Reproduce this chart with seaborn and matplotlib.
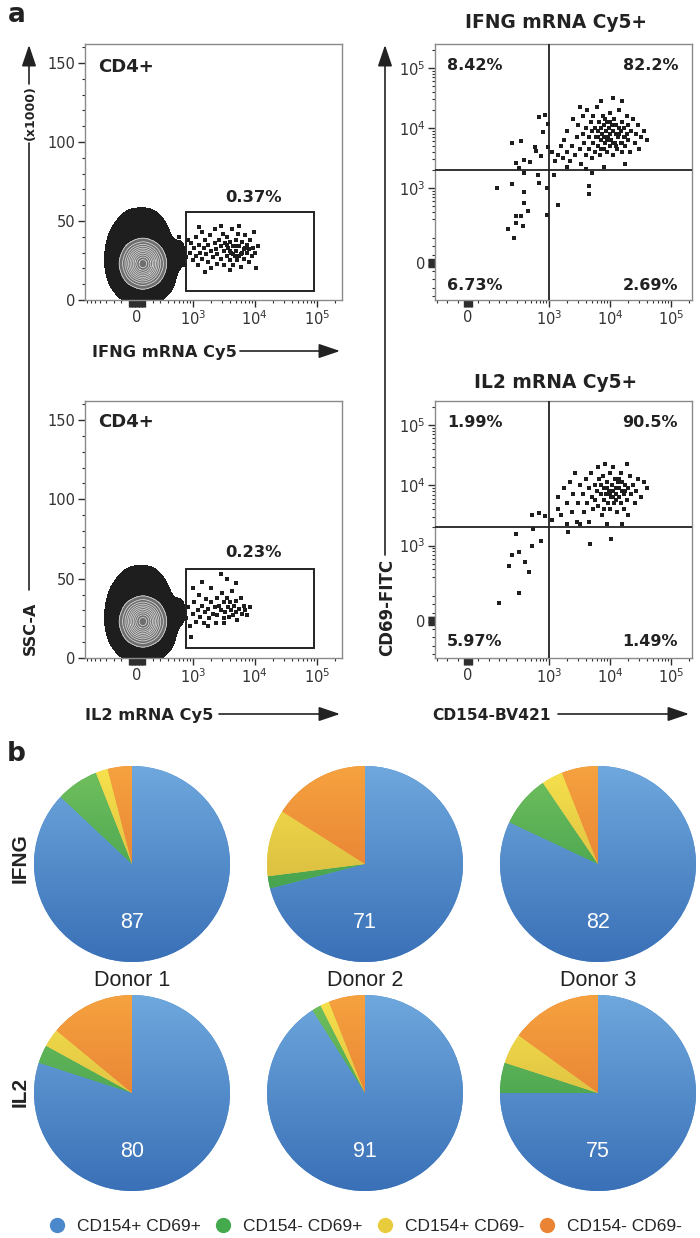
import numpy as np
import pandas as pd
import matplotlib
matplotlib.use("Agg")
import matplotlib.pyplot as plt
import seaborn as sns
from matplotlib import font_manager
from matplotlib.colors import LinearSegmentedColormap, ListedColormap
from matplotlib.lines import Line2D
from matplotlib.patches import Rectangle
from matplotlib.ticker import FixedLocator, FixedFormatter

# ======================= DATA =======================
# Panel a (left): CD4+ parent population, x = mRNA-Cy5, y = SSC-A (x1000)
cd4_cloud_x = [-100, 60, 220,
               -210, -70, 70, 210, 360,
               -260, -130, 0, 130, 260, 420,
               -260, -130, 0, 130, 270, 450, 620,
               -220, -90, 40, 170, 300,
               -150, -20, 110, 230,
               -60, 60, 160]
cd4_cloud_y = [7, 7, 7,
               13, 13, 13, 13, 13,
               21, 21, 21, 21, 21, 21,
               29, 29, 29, 29, 29, 29, 29,
               37, 37, 37, 37, 37,
               43, 43, 43, 43,
               48, 48, 48]
cd4_core_x = [75, 245, -95, 75, 75, 195, -45, 195, -45]
cd4_core_y = [23, 23, 23, 32, 14, 29.4, 29.4, 16.6, 16.6]
cd4_core_w = [3, 1, 1, 1, 1, 1, 1, 1, 1]

gate_x = [770, 90000]
gate_y = [6, 56]
gate_pct = ["0.37%", "0.23%"]

ifng_gate_x = [890, 930, 1000, 1050, 1120, 1120, 1200, 1260, 1320, 1410,
               1410, 1510, 1580, 1660, 1780, 1780, 1910, 2000, 2000, 2090,
               2240, 2240, 2400, 2500, 2500, 2630, 2820, 2820, 3020, 3160,
               3160, 3310, 3550, 3550, 3720, 3980, 3980, 4170, 4270, 4470,
               4470, 4790, 5010, 5010, 5250, 5370, 5620, 5890, 6030, 6310,
               6610, 6760, 7080, 7410, 7590, 7940, 8320, 8910, 9330, 10000,
               10500, 9550, 11200, 3980, 2820, 1580, 5620, 790, 830, 1260,
               500, 560, 630, 710, 600, 450, 760,
               3980, 5010, 5620, 7080, 3550, 4470, 6310, 7940]
ifng_gate_y = [30, 36, 25, 33, 28, 40, 22, 35, 30, 43,
               26, 33, 38, 29, 24, 35, 41, 31, 20, 27,
               36, 45, 32, 23, 29, 38, 34, 26, 42, 31,
               22, 36, 28, 40, 33, 25, 37, 30, 45, 34,
               22, 28, 38, 31, 25, 42, 34, 29, 21, 37,
               32, 26, 41, 30, 35, 24, 38, 28, 33, 30,
               20, 43, 34, 19, 47, 18, 47, 27, 38, 46,
               30, 35, 28, 33, 40, 25, 22,
               31, 34, 28, 33, 35, 29, 30, 32]

il2_gate_x = [790, 830, 890, 1000, 1050, 1120, 1200, 1260, 1320, 1410,
              1510, 1580, 1660, 1780, 1860, 2000, 2000, 2090, 2240, 2340,
              2500, 2500, 2630, 2820, 2950, 3160, 3160, 3310, 3550, 3720,
              3800, 3980, 4170, 4270, 4470, 4680, 5010, 5010, 5250, 5620,
              5890, 6310, 6610, 7080, 7590, 8320, 1000, 2820, 5010, 3550,
              930, 1780, 1410, 3160,
              500, 560, 630, 710, 450]
il2_gate_y = [25, 32, 20, 28, 35, 23, 30, 40, 26, 33,
              22, 29, 37, 31, 25, 35, 44, 28, 32, 22,
              38, 27, 33, 30, 41, 25, 35, 29, 38, 32,
              26, 35, 30, 42, 27, 33, 36, 29, 24, 31,
              38, 28, 33, 30, 27, 32, 44, 53, 47, 50,
              13, 20, 48, 22,
              30, 25, 33, 28, 35]

# Panel a (right): gated Cy5+ cells, x = CD154-BV421, y = CD69-FITC
ifng_cd154 = [1120, 1260, 1410, 1580, 1660, 1780, 2000, 2000, 2240, 2400,
              2500, 2630, 2820, 3020, 3160, 3310, 3550, 3550, 3800, 3980,
              3980, 4170, 4470, 4470, 4790, 5010, 5010, 5250, 5250, 5620,
              5620, 5890, 6030, 6310, 6310, 6610, 6760, 7080, 7080, 7410,
              7590, 7940, 7940, 7940, 8320, 8510, 8910, 8910, 9330, 9550,
              10000, 10000, 10000, 10500, 10700, 11200, 11200, 11700, 12000, 12600,
              12600, 13200, 13500, 14100, 14100, 14800, 15100, 15800, 15800, 16600,
              17000, 17800, 18600, 19100, 20000, 20000, 20900, 22400, 23400, 25100,
              26300, 28200, 30200, 31600, 35500, 39800, 11200, 7080, 15800, 3160,
              2000, 17800, 3980, 7940, 8910, 11200, 12600, 7080, 14100, 10000,
              6310, 17800, 15800, 8320,
              5100, 4470, 4570, 1410, 1200,
              250, 350, 580, 690, 850, 790, 620, 390, 480, 950, 950, 320, 290, 740,
              140, 250, 390, 390, 660, 690, 910, 390, 450, 290, 350, 290, 210, 270, 370, 930]
ifng_cd69 = [3980, 2820, 3550, 5010, 3160, 6310, 3980, 8910, 2820, 5010,
             14100, 3550, 7080, 11200, 4470, 2500, 7940, 15800, 5620, 3550,
             10000, 20000, 7080, 4470, 12600, 3160, 8910, 5620, 15800, 3980,
             10000, 7080, 22400, 5010, 8910, 12600, 3550, 6310, 10000, 7940,
             15800, 4470, 7080, 11200, 5620, 8910, 12600, 3980, 7080, 10000,
             5010, 7940, 17800, 6310, 11200, 8910, 3550, 14100, 5620, 7940,
             11200, 4470, 7080, 10000, 20000, 5620, 8910, 12600, 3980, 7080,
             10000, 5010, 15800, 7940, 6310, 11200, 3980, 8910, 14100, 5620,
             7940, 11200, 4470, 7080, 8910, 6310, 31600, 28200, 28200, 22400,
             2240, 2500, 2090, 2240, 6310, 5620, 5010, 4470, 7940, 12600,
             7080, 7080, 5620, 14100,
             1780, 1070, 780, 520, 1620,
             5620, 6030, 4900, 15500, 16600, 8710, 4070, 2950, 2750, 11500, 4900, 2140, 2630, 3390,
             1000, 1150, 1780, 870, 1660, 1200, 1000, 560, 410, 340, 340, 260, 210, 150, 230, 360]

il2_cd154 = [1410, 1410, 1580, 1780, 2000, 2000, 2240, 2400, 2500, 2630,
             2820, 3020, 3160, 3160, 3550, 3800, 3980, 4170, 4470, 4470,
             4790, 5010, 5250, 5620, 5620, 6030, 6310, 6310, 6610, 7080,
             7080, 7410, 7590, 7940, 7940, 8320, 8510, 8910, 9330, 9550,
             10000, 10000, 10500, 10700, 11200, 11200, 11700, 12000, 12600, 12600,
             13200, 13500, 14100, 14100, 14800, 15100, 15800, 15800, 16600, 17000,
             17800, 18600, 19100, 20000, 20000, 20900, 22400, 23400, 25100, 26300,
             28200, 31600, 35500, 39800, 15800, 8910,
             10000, 12600, 8910, 11200, 14100, 7940, 17800, 1100,
             4680, 10200, 2040,
             520, 690, 850,
             290, 540, 740, 520, 320, 250, 400, 220, 460, 320, 150]
il2_cd69 = [3980, 6310, 3160, 8910, 5010, 2240, 11200, 3550, 7080, 15800,
            2500, 5010, 10000, 2240, 7080, 3550, 12600, 5010, 8910, 2500,
            15800, 6310, 3980, 10000, 5620, 7940, 20000, 4470, 12600, 7080,
            10000, 3160, 14100, 5620, 8910, 22400, 7080, 11200, 5010, 7940,
            15800, 3980, 6310, 10000, 7940, 20000, 5010, 12600, 7080, 8910,
            3550, 11200, 6310, 8910, 15800, 5010, 7940, 11200, 3980, 7080,
            10000, 22400, 5620, 8910, 3160, 14100, 7080, 10000, 5010, 7940,
            12600, 6310, 11200, 8910, 2240, 2240,
            7080, 5620, 8910, 6310, 12600, 3980, 7940, 2630,
            1070, 1290, 1660,
            3240, 3470, 3090,
            1550, 1860, 1200, 1000, 780, 690, 540, 450, 370, 170, 110]

quad_cd154_cut = 1000
quad_cd69_cut = 2000
ifng_quadrants = ["8.42%", "82.2%", "6.73%", "2.69%"]   # UL, UR, LL, LR
il2_quadrants = ["1.99%", "90.5%", "5.97%", "1.49%"]

# Panel b: pies
categories = ["CD154+ CD69+", "CD154- CD69+", "CD154+ CD69-", "CD154- CD69-"]
donors = ["Donor 1", "Donor 2", "Donor 3"]
ifng_shares = [[87, 7, 2, 4], [71, 2, 11, 16], [82, 8.5, 3.5, 6]]
il2_shares = [[80, 3, 3, 14], [91, 1.5, 1.5, 6], [75, 5, 5, 15]]

# ======================= STYLE =======================
sns.set_theme(style="white")
plt.rcParams["font.family"] = ["DejaVu Sans"]
plt.rcParams["mathtext.default"] = "regular"

_installed = {f.name for f in font_manager.fontManager.ttflist}
ARIAL_LIKE = next((n for n in ["Liberation Sans", "Arimo", "Arial", "Helvetica",
                               "Nimbus Sans", "Roboto", "Lato", "Open Sans"]
                   if n in _installed), "DejaVu Sans")
SANS2 = [ARIAL_LIKE, "DejaVu Sans"]

W, H = 700, 1238
fig = plt.figure(figsize=(W / 100, H / 100), dpi=100)
INK = "#1e1e1e"

cloud_df = pd.DataFrame({"x": cd4_cloud_x, "y": cd4_cloud_y})
core_df = pd.DataFrame({"x": cd4_core_x, "y": cd4_core_y, "w": cd4_core_w})


def rect(l, t, r, b):
    return [l / W, 1 - b / H, (r - l) / W, (b - t) / H]


def frame(ax):
    for sp in ax.spines.values():
        sp.set_color("#8a8a8a")
        sp.set_linewidth(1.0)
    ax.grid(False)
    ax.tick_params(which="both", direction="out", bottom=True, left=True,
                   top=False, right=False, color="#2e2e2e")
    ax.tick_params(which="major", length=5, width=1.0, labelsize=10.5,
                   labelcolor="#333333", pad=2)
    ax.tick_params(which="minor", length=2.5, width=0.8)
    ax.set_xlabel("")
    ax.set_ylabel("")


def decade_minors(decades):
    out = []
    for d in decades:
        out += [m * d for m in range(2, 10)]
    return out


def left_x_axis(ax):
    ax.set_xscale("symlog", linthresh=300, linscale=0.339)
    ax.set_xlim(-869, 254800)
    cluster = list(range(-100, 101, 10))
    ax.xaxis.set_major_locator(FixedLocator(cluster + [1e3, 1e4, 1e5]))
    ax.xaxis.set_major_formatter(FixedFormatter(
        ["0" if c == 0 else "" for c in cluster] + ["$10^3$", "$10^4$", "$10^5$"]))
    minors = [-800, -700, -600, -500, -400, -300, -200, 200, 300, 400, 500,
              600, 700, 800, 900] + decade_minors([1e3, 1e4]) + [2e5]
    ax.xaxis.set_minor_locator(FixedLocator(minors))
    ax.set_ylim(0, 162)
    ax.yaxis.set_major_locator(FixedLocator([0, 50, 100, 150]))
    ax.yaxis.set_major_formatter(FixedFormatter(["0", "50", "100", "150"]))
    ax.yaxis.set_minor_locator(FixedLocator([10, 20, 30, 40, 60, 70, 80, 90,
                                             110, 120, 130, 140, 160]))


def right_axes(ax):
    ax.set_xscale("symlog", linthresh=150, linscale=0.455)
    ax.set_xlim(-163, 219900)
    cl = list(range(-20, 21, 5))
    ax.xaxis.set_major_locator(FixedLocator(cl + [1e3, 1e4, 1e5]))
    ax.xaxis.set_major_formatter(FixedFormatter(
        ["0" if c == 0 else "" for c in cl] + ["$10^3$", "$10^4$", "$10^5$"]))
    ax.xaxis.set_minor_locator(FixedLocator(
        [-150, -100, -50, 50, 100, 150, 200, 300, 400, 500, 600, 700, 800, 900]
        + decade_minors([1e3, 1e4]) + [2e5]))
    ax.set_yscale("symlog", linthresh=200, linscale=0.496)
    ax.set_ylim(-233, 251000)
    cy = list(range(-25, 26, 5))
    ax.yaxis.set_major_locator(FixedLocator(cy + [1e3, 1e4, 1e5]))
    ax.yaxis.set_major_formatter(FixedFormatter(
        ["0" if c == 0 else "" for c in cy] + ["$10^3$", "$10^4$", "$10^5$"]))
    ax.yaxis.set_minor_locator(FixedLocator(
        [-200, -150, -100, -50, 50, 100, 150, 300, 400, 500, 600, 700, 800, 900]
        + decade_minors([1e3, 1e4]) + [2e5]))


def cd4_panel(ax, gx, gy):
    sns.kdeplot(data=cloud_df, x="x", y="y", ax=ax, fill=True,
                levels=[0.03, 1.0], cmap=ListedColormap([INK]), bw_adjust=0.75)
    sns.kdeplot(data=core_df, x="x", y="y", weights="w", ax=ax,
                fill=True, levels=[0.05, 1.0], cmap=ListedColormap(["#6e6e6e"]))
    sns.kdeplot(data=core_df, x="x", y="y", weights="w", ax=ax,
                fill=False, levels=[0.05, 0.13, 0.22, 0.31, 0.40, 0.49, 0.58,
                                    0.67, 0.76, 0.85, 0.94],
                colors=["#dcdcdc"], linewidths=0.55)
    sns.scatterplot(x=gx, y=gy, ax=ax, marker="s", s=5, color=INK,
                    linewidth=0, legend=False)
    ax.add_patch(Rectangle((gate_x[0], gate_y[0]), gate_x[1] - gate_x[0],
                           gate_y[1] - gate_y[0], fill=False,
                           edgecolor="#222222", linewidth=1.4, zorder=5))
    frame(ax)
    left_x_axis(ax)


def quad_panel(ax, xs, ys):
    sns.scatterplot(x=xs, y=ys, ax=ax, marker="s", s=5, color=INK,
                    linewidth=0, legend=False)
    ax.axvline(quad_cd154_cut, color="#222222", lw=1.3, zorder=4)
    ax.axhline(quad_cd69_cut, color="#222222", lw=1.3, zorder=4)
    frame(ax)
    right_axes(ax)


ax_tl = fig.add_axes(rect(85, 44, 342, 300))
cd4_panel(ax_tl, ifng_gate_x, ifng_gate_y)
ax_bl = fig.add_axes(rect(85, 401, 342, 658))
cd4_panel(ax_bl, il2_gate_x, il2_gate_y)
ax_tr = fig.add_axes(rect(435, 44, 692, 300))
quad_panel(ax_tr, ifng_cd154, ifng_cd69)
ax_br = fig.add_axes(rect(435, 401, 692, 658))
quad_panel(ax_br, il2_cd154, il2_cd69)

# ---------------- pies ----------------
pie_grad = [("#6ea8dd", "#3a70b7"), ("#72c05e", "#2d9246"),
            ("#f7e24c", "#c8a63a"), ("#f6a23f", "#de6c2d")]
legend_cols = ["#4a88cb", "#45a94d", "#e8cc3e", "#ea8434"]
R = 98
centers_x = [132, 365, 598]
grad = np.linspace(0, 1, 256).reshape(-1, 1)
for row_cy, shares in ((864, ifng_shares), (1093, il2_shares)):
    for cx, vals in zip(centers_x, shares):
        ax = fig.add_axes(rect(cx - R, row_cy - R, cx + R, row_cy + R))
        wedges, _ = ax.pie(vals, colors=legend_cols, startangle=90,
                           counterclock=False, radius=1,
                           wedgeprops=dict(linewidth=0))
        for wdg, (top, bot) in zip(wedges, pie_grad):
            cm = LinearSegmentedColormap.from_list("g", [bot, top])
            im = ax.imshow(grad, cmap=cm, extent=(-1, 1, -1, 1), origin="lower",
                           aspect="auto", interpolation="bilinear", zorder=2)
            im.set_clip_path(wdg)
        ax.set_xlim(-1, 1)
        ax.set_ylim(-1, 1)
        ax.set_aspect("auto")
        ax.axis("off")
        ax.text(0, -0.6, f"{vals[0]:g}", color="white", ha="center",
                va="center", fontsize=15.5, family=SANS2, zorder=5)

handles = [Line2D([], [], marker="o", linestyle="none", markersize=11,
                  markerfacecolor=c, markeredgewidth=0) for c in legend_cols]
fig.legend(handles, categories, loc="center", bbox_to_anchor=(365 / W, 1 - 1226 / H),
           ncol=4, frameon=False, prop={"family": SANS2, "size": 12.5},
           handlelength=1.0, handletextpad=0.65, columnspacing=0.8,
           borderaxespad=0, borderpad=0)

# ---------------- overlay: labels & arrows (pixel coords) ----------------
ov = fig.add_axes([0, 0, 1, 1])
ov.set_xlim(0, W)
ov.set_ylim(H, 0)
ov.axis("off")
AK = "#222222"


def arrow(x0, y0, x1, y1):
    ov.annotate("", xy=(x1, y1), xytext=(x0, y0),
                arrowprops=dict(arrowstyle="-|>,head_length=0.65,head_width=0.22",
                                color=AK, lw=1.2, mutation_scale=20,
                                shrinkA=0, shrinkB=0))


bold = dict(fontweight="bold", color=AK)
ov.text(8, 22, "a", fontsize=19, va="baseline", ha="left", **bold)
ov.text(7, 761, "b", fontsize=19, va="baseline", ha="left", **bold)

ov.text(556, 28.5, "IFNG mRNA Cy5+", fontsize=13.4, ha="center", va="baseline", **bold)
ov.text(556, 388.5, "IL2 mRNA Cy5+", fontsize=13.4, ha="center", va="baseline", **bold)

for top in (72, 427):
    ov.text(98, top, "CD4+", fontsize=13, ha="left", va="baseline", **bold)
ov.text(254, 202, gate_pct[0], fontsize=11.8, ha="center", va="baseline", **bold)
ov.text(254, 557, gate_pct[1], fontsize=11.8, ha="center", va="baseline", **bold)

for (yt, yb), q in (((70, 290), ifng_quadrants), ((427, 646), il2_quadrants)):
    ov.text(447, yt, q[0], fontsize=11.5, ha="left", va="baseline", **bold)
    ov.text(678, yt, q[1], fontsize=11.5, ha="right", va="baseline", **bold)
    ov.text(447, yb, q[2], fontsize=11.5, ha="left", va="baseline", **bold)
    ov.text(678, yb, q[3], fontsize=11.5, ha="right", va="baseline", **bold)

# x-axis labels with arrows
ov.text(92, 357, "IFNG mRNA Cy5", fontsize=11.7, ha="left", va="baseline", **bold)
arrow(240, 351, 340, 351)
ov.text(85, 720, "IL2 mRNA Cy5", fontsize=11.7, ha="left", va="baseline", **bold)
arrow(219, 714, 340, 714)
ov.text(432, 720, "CD154-BV421", fontsize=11.2, ha="left", va="baseline", **bold)
arrow(558, 714, 689, 714)

# y-axis labels with arrows
ov.plot([29, 29], [590, 143], color=AK, lw=1.2)
arrow(29, 84, 29, 45)
ov.text(30, 113, "(x1000)", fontsize=9, rotation=90, ha="center", va="center", **bold)
ov.text(30, 628, "SSC-A", fontsize=11.5, rotation=90, ha="center", va="center", **bold)
arrow(385, 555, 385, 45)
ov.text(387, 607, "CD69-FITC", fontsize=12, rotation=90, ha="center", va="center", **bold)

# pies: row & donor labels
ov.text(20, 858, "IFNG", fontsize=15, rotation=90, ha="center", va="center",
        family=SANS2, **bold)
ov.text(20, 1092, "IL2", fontsize=15, rotation=90, ha="center", va="center",
        family=SANS2, **bold)
for cx, dn in zip(centers_x, donors):
    ov.text(cx, 986, dn, fontsize=15.5, ha="center", va="baseline",
            family=SANS2, color="#222222")

fig.savefig("out.png", dpi=100)
